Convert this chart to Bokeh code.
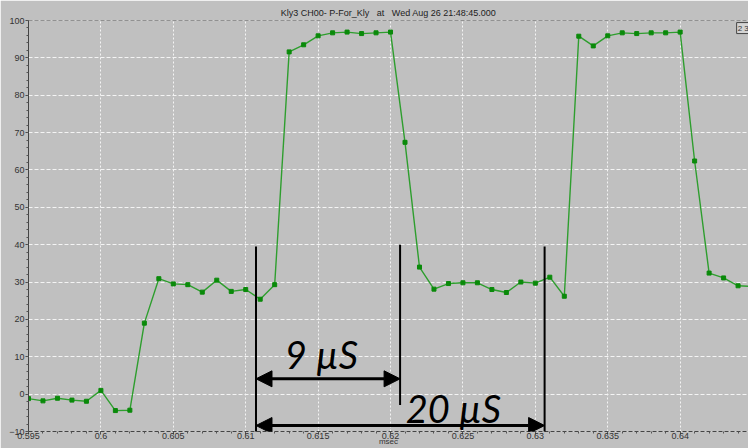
from bokeh.plotting import figure
from bokeh.models import Range1d, Span, Label, Arrow, NormalHead, FixedTicker
from bokeh.embed import file_html
from bokeh.resources import INLINE

# Klystron forward power trace, one sample per microsecond
t_msec = [0.595, 0.596, 0.597, 0.598, 0.599, 0.600, 0.601, 0.602, 0.603, 0.604,
          0.605, 0.606, 0.607, 0.608, 0.609, 0.610, 0.611, 0.612, 0.613, 0.614,
          0.615, 0.616, 0.617, 0.618, 0.619, 0.620, 0.621, 0.622, 0.623, 0.624,
          0.625, 0.626, 0.627, 0.628, 0.629, 0.630, 0.631, 0.632, 0.633, 0.634,
          0.635, 0.636, 0.637, 0.638, 0.639, 0.640, 0.641, 0.642, 0.643, 0.644,
          0.645]
power = [-1.2, -1.8, -1.1, -1.6, -1.9, 1.0, -4.4, -4.3, 19.0, 30.9,
         29.5, 29.3, 27.3, 30.5, 27.5, 28.0, 25.4, 29.3, 91.6, 93.5,
         95.9, 96.7, 96.9, 96.5, 96.7, 96.9, 67.4, 34.0, 28.1, 29.6,
         29.8, 29.8, 28.0, 27.2, 30.0, 29.7, 31.3, 26.2, 95.8, 93.2,
         95.9, 96.7, 96.5, 96.7, 96.7, 96.9, 62.4, 32.4, 31.1, 29.0,
         28.8]

x_ticks = [0.595, 0.600, 0.605, 0.610, 0.615, 0.620, 0.625, 0.630, 0.635, 0.640, 0.645]
y_ticks = [-10, 0, 10, 20, 30, 40, 50, 60, 70, 80, 90, 100]

# Timing markers (msec) and the intervals they bracket
mark_start = 0.61071
mark_pulse_end = 0.62066
mark_period_end = 0.63064
pulse_label = "9 µS"
period_label = "20 µS"

BG = "#c0c0c0"
NBSP = "\u00a0"
title_text = ("Kly3 CH00- P-For_Kly" + NBSP * 3 + "at" + NBSP * 3
              + "Wed Aug 26 21:48:45.000")

p = figure(width=748, height=448, output_backend="svg", toolbar_location=None,
           x_range=Range1d(0.595, 0.64472), y_range=Range1d(-10, 100),
           min_border_left=28, min_border_right=0, min_border_top=20, min_border_bottom=0,
           background_fill_color=BG, border_fill_color=BG, outline_line_color=None,
           title=title_text)

p.title.align = "center"
p.title.text_font = "Liberation Sans"
p.title.text_font_size = "9px"
p.title.text_font_style = "normal"
p.title.text_color = "#222222"
p.title.standoff = 6

# axes
p.xaxis.ticker = FixedTicker(ticks=x_ticks, minor_ticks=[round(0.595 + 0.001 * i, 3) for i in range(51)])
p.yaxis.ticker = FixedTicker(ticks=y_ticks, minor_ticks=list(range(-10, 101, 2)))
p.xaxis.major_label_overrides = {0.6: "0.6", 0.61: "0.61", 0.62: "0.62", 0.63: "0.63", 0.64: "0.64"}
for ax in (p.xaxis[0], p.yaxis[0]):
    ax.major_label_text_font = "Liberation Sans"
    ax.major_label_text_font_size = "9px"
    ax.major_label_text_color = "#333333"
    ax.axis_line_color = "#444444"
    ax.major_tick_line_color = "#444444"
    ax.minor_tick_line_color = "#555555"
    ax.major_tick_out = 3
    ax.major_tick_in = 0
    ax.minor_tick_out = 2
    ax.minor_tick_in = 0
p.xaxis.axis_line_dash = "4 2"
p.xaxis.major_label_standoff = -2
p.yaxis.major_label_standoff = 1
p.xaxis.axis_label = "msec"
p.xaxis.axis_label_text_font = "Liberation Sans"
p.xaxis.axis_label_text_font_size = "8px"
p.xaxis.axis_label_text_font_style = "normal"
p.xaxis.axis_label_text_color = "#333333"
p.xaxis.axis_label_standoff = -5

# grid
p.xgrid.grid_line_color = "#f4f4f4"
p.xgrid.grid_line_dash = "2 2"
p.ygrid.grid_line_color = "#f4f4f4"
p.ygrid.grid_line_dash = "4 2"
p.add_layout(Span(location=100, dimension="width", line_color="#555555",
                  line_dash="4 2", line_width=1))

# trace
p.line(t_msec, power, line_color="#2e9e2e", line_width=1.4)
p.scatter(t_msec, power, marker="square", size=4, fill_color="#0a8a0a",
          line_color="#0a8a0a")

# timing markers
for xm, y_top, y_bot in [(mark_start, 39.5, -12.3), (mark_pulse_end, 40.0, -2.9),
                         (mark_period_end, 39.5, -12.3)]:
    p.add_layout(Arrow(x_start=xm, y_start=y_top, x_end=xm, y_end=y_bot,
                       start=None, end=None, line_color="black", line_width=2))

for x_end, y_arr in [(mark_pulse_end, 4.1), (mark_period_end, -8.4)]:
    p.add_layout(Arrow(x_start=mark_start, y_start=y_arr, x_end=x_end, y_end=y_arr,
                       line_color="black", line_width=3,
                       start=NormalHead(size=16, fill_color="black", line_color="black"),
                       end=NormalHead(size=16, fill_color="black", line_color="black")))

p.add_layout(Label(x=0.61523, y=10.7, text=pulse_label, text_align="center",
                   text_baseline="alphabetic", text_font="Lato", text_font_style="italic",
                   text_font_size="38px", text_color="black"))
p.add_layout(Label(x=0.62434, y=-3.6, text=period_label, text_align="center",
                   text_baseline="alphabetic", text_font="Lato", text_font_style="italic",
                   text_font_size="38px", text_color="black"))

# zoom-level indicator box
p.add_layout(Label(x=0.6439, y=96.5, text="2 3", text_font="Liberation Sans",
                   text_font_size="8px", text_color="#333333",
                   border_line_color="#444444", background_fill_color="#d4d4d4",
                   padding=1))

open("out.html", "w").write(file_html(p, INLINE))
